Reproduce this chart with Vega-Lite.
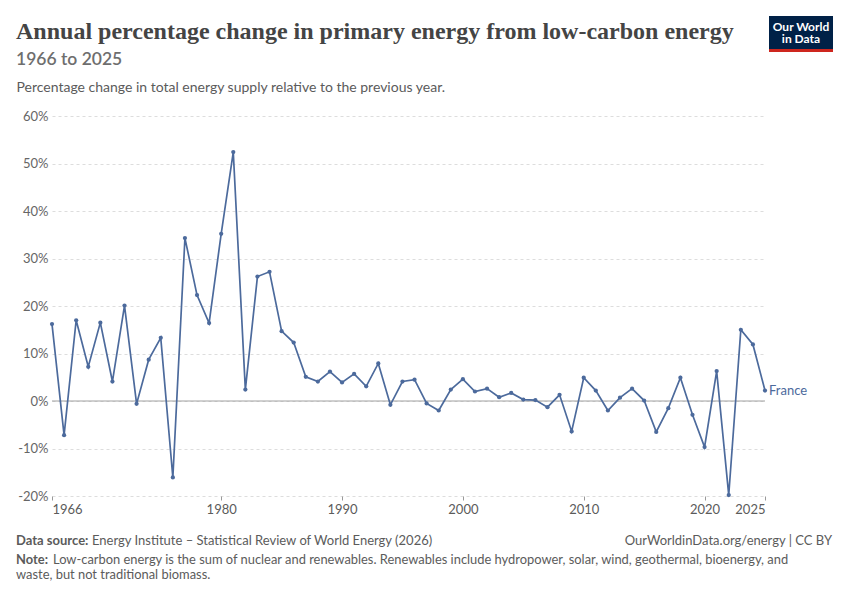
{
  "$schema": "https://vega.github.io/schema/vega-lite/v6.json",
  "width": 713,
  "height": 380,
  "autosize": {"type": "none"},
  "padding": {"left": 52, "top": 116, "right": 85, "bottom": 104},
  "background": "#ffffff",
  "data": {
    "values": [
      {"year": 1966, "change": 16.2, "country": "France"},
      {"year": 1967, "change": -7.2, "country": "France"},
      {"year": 1968, "change": 17.0, "country": "France"},
      {"year": 1969, "change": 7.2, "country": "France"},
      {"year": 1970, "change": 16.5, "country": "France"},
      {"year": 1971, "change": 4.1, "country": "France"},
      {"year": 1972, "change": 20.1, "country": "France"},
      {"year": 1973, "change": -0.6, "country": "France"},
      {"year": 1974, "change": 8.7, "country": "France"},
      {"year": 1975, "change": 13.3, "country": "France"},
      {"year": 1976, "change": -16.1, "country": "France"},
      {"year": 1977, "change": 34.3, "country": "France"},
      {"year": 1978, "change": 22.3, "country": "France"},
      {"year": 1979, "change": 16.4, "country": "France"},
      {"year": 1980, "change": 35.2, "country": "France"},
      {"year": 1981, "change": 52.4, "country": "France"},
      {"year": 1982, "change": 2.4, "country": "France"},
      {"year": 1983, "change": 26.2, "country": "France"},
      {"year": 1984, "change": 27.2, "country": "France"},
      {"year": 1985, "change": 14.7, "country": "France"},
      {"year": 1986, "change": 12.3, "country": "France"},
      {"year": 1987, "change": 5.1, "country": "France"},
      {"year": 1988, "change": 4.1, "country": "France"},
      {"year": 1989, "change": 6.2, "country": "France"},
      {"year": 1990, "change": 3.9, "country": "France"},
      {"year": 1991, "change": 5.7, "country": "France"},
      {"year": 1992, "change": 3.1, "country": "France"},
      {"year": 1993, "change": 7.9, "country": "France"},
      {"year": 1994, "change": -0.8, "country": "France"},
      {"year": 1995, "change": 4.1, "country": "France"},
      {"year": 1996, "change": 4.5, "country": "France"},
      {"year": 1997, "change": -0.5, "country": "France"},
      {"year": 1998, "change": -2.0, "country": "France"},
      {"year": 1999, "change": 2.4, "country": "France"},
      {"year": 2000, "change": 4.6, "country": "France"},
      {"year": 2001, "change": 2.0, "country": "France"},
      {"year": 2002, "change": 2.6, "country": "France"},
      {"year": 2003, "change": 0.8, "country": "France"},
      {"year": 2004, "change": 1.7, "country": "France"},
      {"year": 2005, "change": 0.3, "country": "France"},
      {"year": 2006, "change": 0.2, "country": "France"},
      {"year": 2007, "change": -1.3, "country": "France"},
      {"year": 2008, "change": 1.3, "country": "France"},
      {"year": 2009, "change": -6.4, "country": "France"},
      {"year": 2010, "change": 4.9, "country": "France"},
      {"year": 2011, "change": 2.2, "country": "France"},
      {"year": 2012, "change": -2.0, "country": "France"},
      {"year": 2013, "change": 0.7, "country": "France"},
      {"year": 2014, "change": 2.6, "country": "France"},
      {"year": 2015, "change": 0.1, "country": "France"},
      {"year": 2016, "change": -6.5, "country": "France"},
      {"year": 2017, "change": -1.5, "country": "France"},
      {"year": 2018, "change": 4.9, "country": "France"},
      {"year": 2019, "change": -2.9, "country": "France"},
      {"year": 2020, "change": -9.7, "country": "France"},
      {"year": 2021, "change": 6.3, "country": "France"},
      {"year": 2022, "change": -19.8, "country": "France"},
      {"year": 2023, "change": 15.0, "country": "France"},
      {"year": 2024, "change": 11.9, "country": "France"},
      {"year": 2025, "change": 2.2, "country": "France"}
    ]
  },
  "layer": [
    {
      "data": {"values": [{}]},
      "mark": {"type": "rule", "color": "#a1a1a1", "strokeWidth": 1},
      "encoding": {"y": {"datum": 0, "type": "quantitative"}}
    },
    {
      "mark": {
        "type": "line",
        "color": "#4c6a9c",
        "strokeWidth": 1.7,
        "point": {"filled": true, "size": 18, "color": "#4c6a9c"}
      },
      "encoding": {
        "x": {
          "field": "year",
          "type": "quantitative",
          "scale": {"domain": [1966, 2025], "nice": false, "zero": false},
          "axis": {
            "title": null,
            "values": [1966, 1980, 1990, 2000, 2010, 2020, 2025],
            "format": "d",
            "grid": false,
            "domain": false,
            "tickSize": 4,
            "tickColor": "#999999",
            "labelFlush": true,
            "labelOverlap": false,
            "labelPadding": 3,
            "labelFont": "Lato",
            "labelFontSize": 13,
            "labelColor": "#5b5b5b"
          }
        },
        "y": {
          "field": "change",
          "type": "quantitative",
          "scale": {"domain": [-20, 60], "nice": false},
          "axis": {
            "values": [-20, -10, 0, 10, 20, 30, 40, 50, 60],
            "labelExpr": "datum.value + '%'",
            "grid": true,
            "gridColor": "#dddddd",
            "gridDash": [3, 3],
            "ticks": false,
            "domain": false,
            "labelPadding": 4,
            "labelFont": "Lato",
            "labelFontSize": 13,
            "labelColor": "#666666",
            "title": "Percentage change in total energy supply relative to the previous year.",
            "titleAngle": 0,
            "titleAlign": "left",
            "titleBaseline": "alphabetic",
            "titleX": -36,
            "titleY": -25,
            "titleFont": "Lato",
            "titleFontSize": 14,
            "titleFontWeight": "normal",
            "titleColor": "#5b5b5b"
          }
        }
      }
    },
    {
      "transform": [{"filter": "datum.year == 2025"}],
      "mark": {"type": "text", "align": "left", "baseline": "middle", "dx": 4, "font": "Lato", "fontSize": 13, "color": "#4c6a9c"},
      "encoding": {
        "x": {"field": "year", "type": "quantitative"},
        "y": {"field": "change", "type": "quantitative"},
        "text": {"field": "country"}
      }
    },
    {
      "data": {"values": [{}]},
      "mark": {"type": "text", "align": "left", "baseline": "alphabetic", "font": "Liberation Serif", "fontSize": 24, "fontWeight": "bold", "color": "#444444"},
      "encoding": {"x": {"value": -36}, "y": {"value": -77}, "text": {"value": "Annual percentage change in primary energy from low-carbon energy"}}
    },
    {
      "data": {"values": [{}]},
      "mark": {"type": "text", "align": "left", "baseline": "alphabetic", "font": "Lato", "fontSize": 17.5, "fontWeight": 600, "color": "#6e6e6e"},
      "encoding": {"x": {"value": -36}, "y": {"value": -51}, "text": {"value": "1966 to 2025"}}
    },
    {
      "data": {"values": [{}]},
      "mark": {"type": "rect", "color": "#002147"},
      "encoding": {
        "x": {"value": 717}, "x2": {"value": 781},
        "y": {"value": -100}, "y2": {"value": -67}
      }
    },
    {
      "data": {"values": [{}]},
      "mark": {"type": "rect", "color": "#ce261e"},
      "encoding": {
        "x": {"value": 717}, "x2": {"value": 781},
        "y": {"value": -67}, "y2": {"value": -64}
      }
    },
    {
      "data": {"values": [{}]},
      "mark": {"type": "text", "align": "center", "baseline": "alphabetic", "font": "Lato", "fontSize": 12, "fontWeight": "bold", "color": "#ffffff"},
      "encoding": {"x": {"value": 749}, "y": {"value": -85.5}, "text": {"value": "Our World"}}
    },
    {
      "data": {"values": [{}]},
      "mark": {"type": "text", "align": "center", "baseline": "alphabetic", "font": "Lato", "fontSize": 12, "fontWeight": "bold", "color": "#ffffff"},
      "encoding": {"x": {"value": 749}, "y": {"value": -73.5}, "text": {"value": "in Data"}}
    },
    {
      "data": {"values": [{}]},
      "mark": {"type": "text", "align": "left", "baseline": "alphabetic", "font": "Lato", "fontSize": 13, "fontWeight": "bold", "color": "#5b5b5b"},
      "encoding": {"x": {"value": -36}, "y": {"value": 429}, "text": {"value": "Data source:"}}
    },
    {
      "data": {"values": [{}]},
      "mark": {"type": "text", "align": "left", "baseline": "alphabetic", "font": "Lato", "fontSize": 13, "color": "#5b5b5b"},
      "encoding": {"x": {"value": 40}, "y": {"value": 429}, "text": {"value": "Energy Institute – Statistical Review of World Energy (2026)"}}
    },
    {
      "data": {"values": [{}]},
      "mark": {"type": "text", "align": "right", "baseline": "alphabetic", "font": "Lato", "fontSize": 13, "color": "#5b5b5b"},
      "encoding": {"x": {"value": 780}, "y": {"value": 429}, "text": {"value": "OurWorldinData.org/energy | CC BY"}}
    },
    {
      "data": {"values": [{}]},
      "mark": {"type": "text", "align": "left", "baseline": "alphabetic", "font": "Lato", "fontSize": 12.9, "fontWeight": "bold", "color": "#5b5b5b"},
      "encoding": {"x": {"value": -36}, "y": {"value": 448}, "text": {"value": "Note:"}}
    },
    {
      "data": {"values": [{}]},
      "mark": {"type": "text", "align": "left", "baseline": "alphabetic", "font": "Lato", "fontSize": 12.9, "color": "#5b5b5b"},
      "encoding": {"x": {"value": 1}, "y": {"value": 448}, "text": {"value": "Low-carbon energy is the sum of nuclear and renewables. Renewables include hydropower, solar, wind, geothermal, bioenergy, and"}}
    },
    {
      "data": {"values": [{}]},
      "mark": {"type": "text", "align": "left", "baseline": "alphabetic", "font": "Lato", "fontSize": 12.9, "color": "#5b5b5b"},
      "encoding": {"x": {"value": -36}, "y": {"value": 463}, "text": {"value": "waste, but not traditional biomass."}}
    }
  ],
  "config": {"view": {"stroke": null}, "font": "Lato"}
}
